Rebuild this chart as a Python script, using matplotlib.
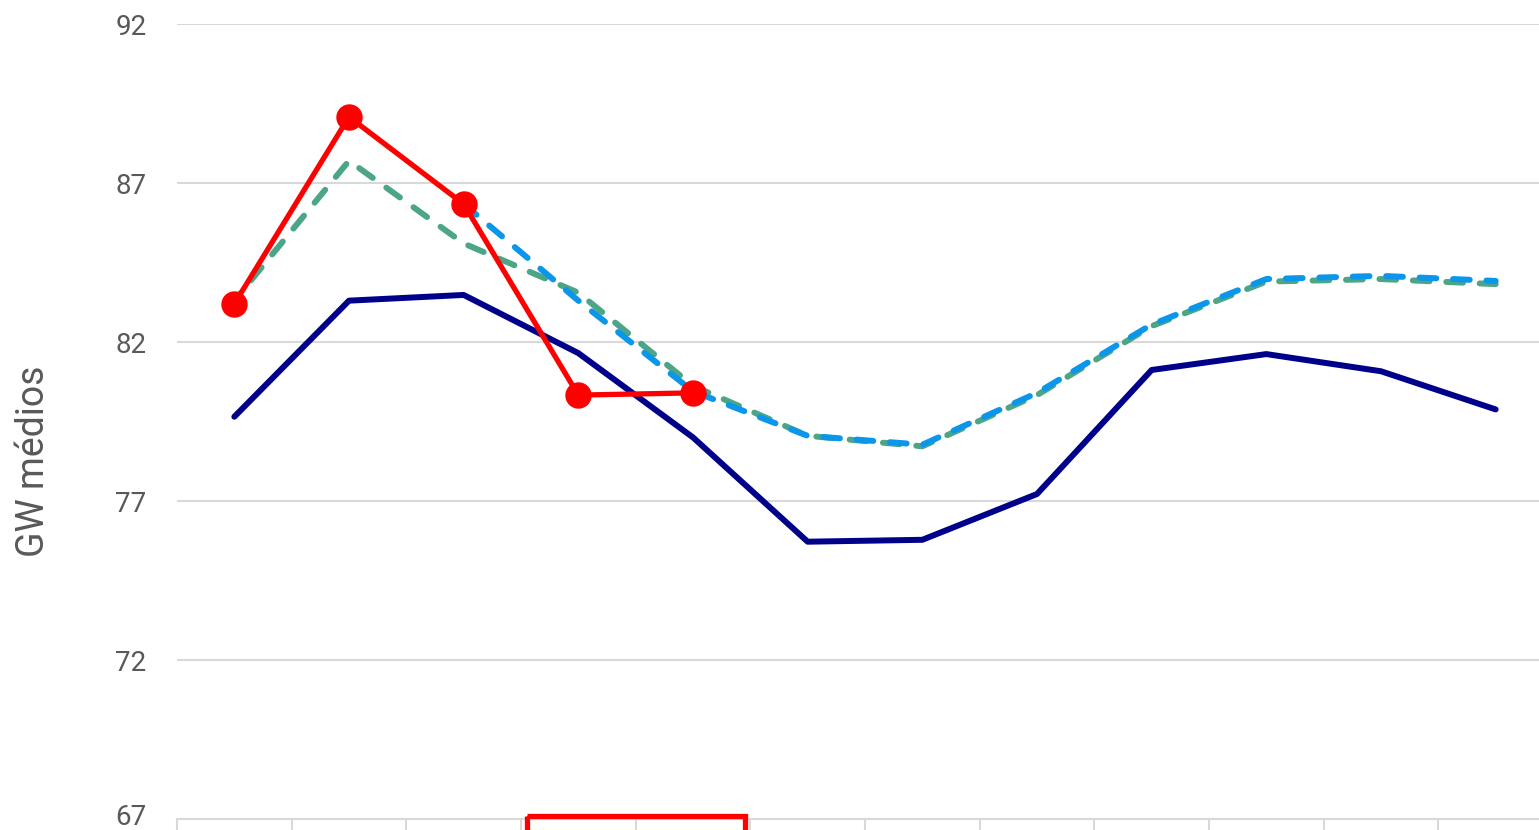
import matplotlib.pyplot as plt
from matplotlib.patches import Rectangle
from matplotlib.transforms import ScaledTranslation

plt.rcParams['font.family'] = ['Roboto', 'DejaVu Sans']

meses = ["jan", "fev", "mar", "abr", "mai", "jun", "jul", "ago", "set", "out", "nov", "dez"]

# carga verificada (azul escuro)
verificado = [79.65, 83.3, 83.48, 81.65, 79.0, 75.72, 75.78, 77.22, 81.12, 81.62, 81.08, 79.88]
# realizado (vermelho, com marcadores)
realizado = [83.2, 89.08, 86.34, 80.33, 80.4]
# previsao anterior (verde tracejado)
prev_verde = [83.3, 87.7, 85.1, 83.55, 80.62, 79.05, 78.72, 80.33, 82.5, 83.9, 83.98, 83.82]
# previsao atual (azul tracejado), a partir de marco
prev_azul = [86.34, 83.3, 80.45, 79.05, 78.77, 80.4, 82.55, 83.98, 84.08, 83.92]

yticks = [67, 72, 77, 82, 87, 92]

fig = plt.figure(figsize=(15.39, 8.30), dpi=100)
ax = fig.add_axes([177 / 1539, 1 - 819 / 830, (1553 - 177) / 1539, (819 - 24) / 830])

x = list(range(len(meses)))
ax.plot(x, verificado, color="#00008B", lw=4.3, solid_capstyle="round", zorder=3)
ax.plot(x, prev_verde, color="#4DA588", lw=4.3, ls=(1.2, (2.8, 2.8)),
        dash_capstyle="round", zorder=4)
ax.plot(x[2:], prev_azul, color="#0A96EA", lw=4.3, ls=(0, (2.8, 2.8)),
        dash_capstyle="round", zorder=5)
ax.plot(x[:len(realizado)], realizado, color="#FF0000", lw=3.8, marker="o",
        markersize=18, zorder=6)

ax.set_xlim(-0.5, 11.5)
ax.set_ylim(67, 92)
ax.set_yticks(yticks)
ax.set_yticklabels([str(v) for v in yticks])
ax.set_xticks([i - 0.5 for i in range(13)])
ax.set_xticklabels([])

ax.grid(axis="y", color="#D9D9D9", lw=1.5)
ax.set_axisbelow(True)
for s in ["top", "right", "left"]:
    ax.spines[s].set_visible(False)
ax.spines["bottom"].set_color("#D9D9D9")
ax.spines["bottom"].set_linewidth(1.5)
ax.tick_params(axis="y", length=0, pad=22, labelsize=20, labelcolor="#595959")
ax.tick_params(axis="x", length=8, width=1.5, color="#D9D9D9")

# o rotulo de baixo fica um pouco acima, como no original
lab67 = ax.get_yticklabels()[0]
lab67.set_transform(lab67.get_transform() + ScaledTranslation(0, 3 / 72, fig.dpi_scale_trans))

ax.set_ylabel("GW médios", fontsize=27, color="#595959")
ax.yaxis.set_label_coords(-0.0909, 0.45)

# destaque dos meses de abril e maio
ax.add_patch(Rectangle((2.555, 67.09), 1.9, -3.0, fill=False, edgecolor="#FF0000",
                       lw=3.8, clip_on=False, zorder=7))

fig.savefig("out.png", dpi=100)
